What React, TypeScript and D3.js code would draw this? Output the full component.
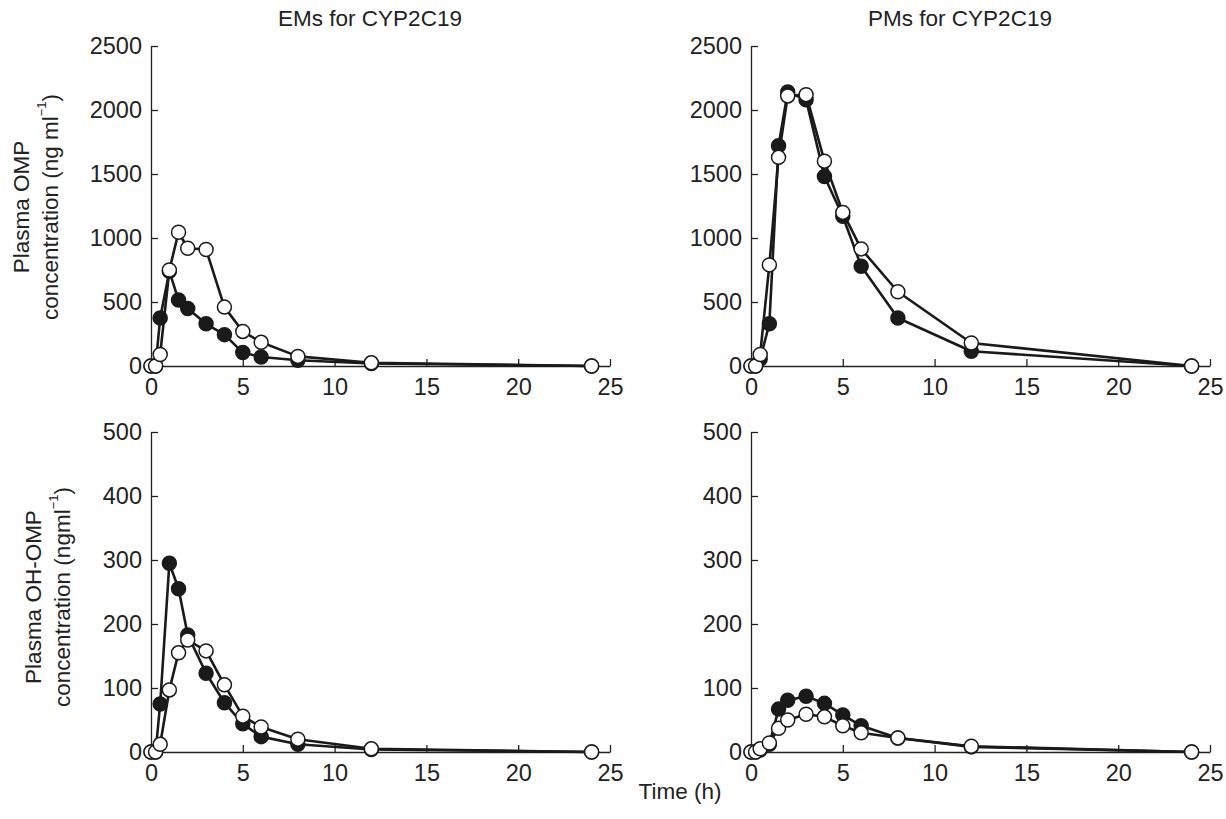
import React, { useEffect, useRef } from "react";
import * as d3 from "d3";

// sampling times (h)
const times = [0, 0.25, 0.5, 1, 1.5, 2, 3, 4, 5, 6, 8, 12, 24];

// plasma OMP (ng/ml)
const emOmpFilled = [0, 0, 375, 740, 515, 450, 330, 245, 105, 70, 45, 20, 0];
const emOmpOpen = [0, 0, 90, 750, 1045, 920, 910, 460, 270, 185, 75, 25, 0];
const pmOmpFilled = [0, 0, 55, 330, 1720, 2140, 2080, 1480, 1170, 780, 375, 115, 0];
const pmOmpOpen = [0, 0, 90, 790, 1630, 2110, 2120, 1600, 1200, 915, 580, 180, 0];

// plasma OH-OMP (ng/ml)
const emOhFilled = [0, 0, 75, 295, 255, 183, 123, 77, 44, 24, 12, 4, 0];
const emOhOpen = [0, 0, 12, 97, 155, 175, 158, 105, 56, 39, 20, 5, 0];
const pmOhFilled = [0, 0, 3, 12, 67, 81, 87, 76, 58, 41, 22, 8, 0];
const pmOhOpen = [0, 0, 5, 14, 37, 50, 59, 55, 41, 30, 22, 9, 0];

const xTicks = [0, 5, 10, 15, 20, 25];
const ompTicks = [0, 500, 1000, 1500, 2000, 2500];
const ohTicks = [0, 100, 200, 300, 400, 500];

const FONT = "'Liberation Sans', Arial, Helvetica, sans-serif";

export default function App() {
  const ref = useRef<SVGGElement | null>(null);

  useEffect(() => {
    const root = d3.select(ref.current);
    root.selectAll("*").remove();

    const panels = [
      { x0: 151, x1: 610, y0: 366, y1: 46, max: 2500, ticks: ompTicks, filled: emOmpFilled, open: emOmpOpen },
      { x0: 751, x1: 1210, y0: 366, y1: 46, max: 2500, ticks: ompTicks, filled: pmOmpFilled, open: pmOmpOpen },
      { x0: 151, x1: 610, y0: 752, y1: 432, max: 500, ticks: ohTicks, filled: emOhFilled, open: emOhOpen },
      { x0: 751, x1: 1210, y0: 752, y1: 432, max: 500, ticks: ohTicks, filled: pmOhFilled, open: pmOhOpen },
    ];

    panels.forEach((p) => {
      const x = d3.scaleLinear().domain([0, 25]).range([p.x0, p.x1]);
      const y = d3.scaleLinear().domain([0, p.max]).range([p.y0, p.y1]);

      const yAxis = root.append("g")
        .attr("transform", `translate(${p.x0},0)`)
        .call(d3.axisLeft(y).tickValues(p.ticks).tickFormat(d3.format("d"))
          .tickSizeInner(-7).tickSizeOuter(0).tickPadding(9));
      const xAxis = root.append("g")
        .attr("transform", `translate(0,${p.y0})`)
        .call(d3.axisBottom(x).tickValues(xTicks).tickFormat(d3.format("d"))
          .tickSizeInner(-7).tickSizeOuter(0).tickPadding(12));

      [yAxis, xAxis].forEach((g) => {
        g.attr("font-size", 23.5).attr("font-family", FONT);
        g.selectAll("path, line").attr("stroke", "#222").attr("stroke-width", 1.3);
        g.selectAll("text").attr("fill", "#222");
      });

      const line = d3.line<number>()
        .x((d, i) => x(times[i]))
        .y((d) => y(d));

      [
        { vals: p.filled, fill: "#1a1a1a" },
        { vals: p.open, fill: "#fff" },
      ].forEach((s) => {
        root.append("path")
          .attr("d", line(s.vals))
          .attr("fill", "none")
          .attr("stroke", "#1a1a1a")
          .attr("stroke-width", 2.6)
          .attr("stroke-linejoin", "round");
        root.append("g")
          .selectAll("circle")
          .data(s.vals)
          .enter()
          .append("circle")
          .attr("cx", (d, i) => x(times[i]))
          .attr("cy", (d) => y(d))
          .attr("r", 7)
          .attr("fill", s.fill)
          .attr("stroke", "#1a1a1a")
          .attr("stroke-width", 1.5);
      });
    });
  }, []);

  return (
    <svg width={1226} height={819} style={{ position: "absolute", left: 0, top: 0, background: "#fff" }} fontFamily={FONT}>
      <g fontFamily={FONT} fill="#222" fontSize={22.5}>
        <text x={370} y={26} textAnchor="middle">EMs for CYP2C19</text>
        <text x={960} y={26} textAnchor="middle">PMs for CYP2C19</text>
        <text x={680} y={799} textAnchor="middle">Time (h)</text>

        <g transform="translate(21,207) rotate(-90)">
          <text x={0} y={0} textAnchor="middle" dominantBaseline="central">Plasma OMP</text>
          <text x={0} y={29} textAnchor="middle" dominantBaseline="central">
            concentration (ng ml<tspan fontSize={13} dy={-9}>−1</tspan><tspan dy={9}>)</tspan>
          </text>
        </g>
        <g transform="translate(33,597) rotate(-90)">
          <text x={0} y={0} textAnchor="middle" dominantBaseline="central">Plasma OH-OMP</text>
          <text x={0} y={29} textAnchor="middle" dominantBaseline="central">
            concentration (ngml<tspan fontSize={13} dy={-9}>−1</tspan><tspan dy={9}>)</tspan>
          </text>
        </g>
      </g>
      <g ref={ref} />
    </svg>
  );
}
